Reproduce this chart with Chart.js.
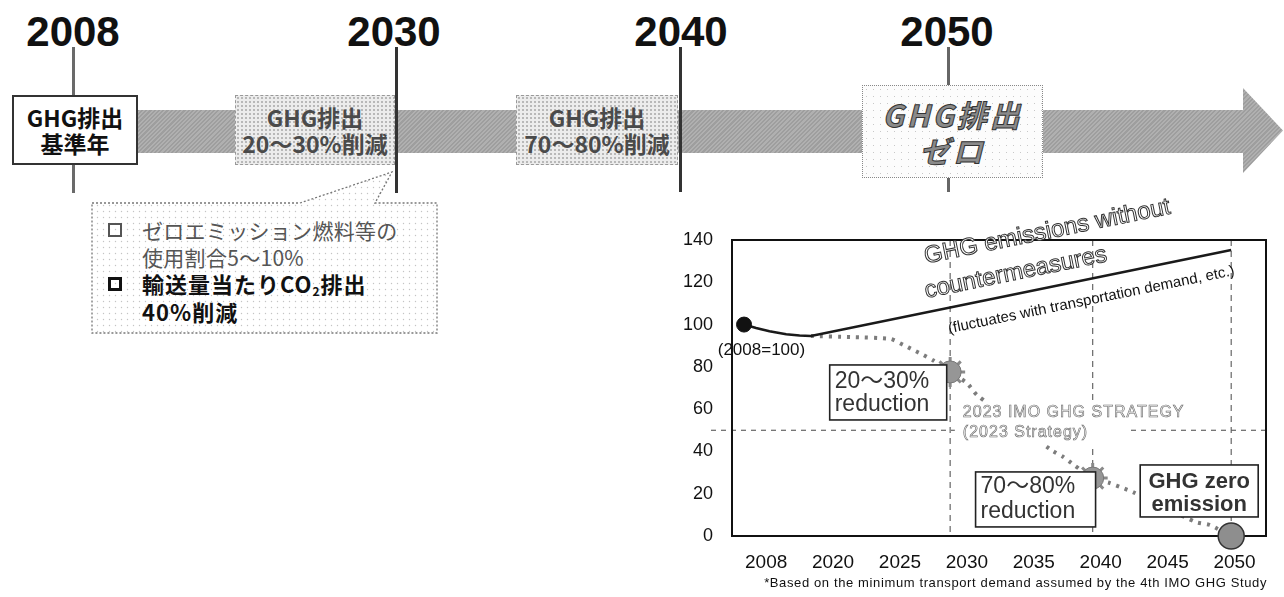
<!DOCTYPE html>
<html lang="ja">
<head>
  <meta charset="UTF-8">
  <title>GHG削減目標</title>
  <script src="https://cdn.jsdelivr.net/npm/chart.js"></script>
  <style>
    * { box-sizing: border-box; margin: 0; padding: 0; }
    body {
      width: 1284px; height: 597px; position: relative; overflow: hidden;
      background: #fff; color: #111;
      font-family: 'Liberation Sans', 'Noto Sans CJK JP', sans-serif;
    }
    .abs { position: absolute; }
    /* timeline */
    .year {
      position: absolute; top: 9px; width: 140px; margin-left: -70px;
      text-align: center; font: bold 42px/46px 'Liberation Sans', sans-serif;
      color: #111;
    }
    .vline { position: absolute; top: 47px; width: 3px; }
    .arrow {
      position: absolute; left: 138px; top: 88px; width: 1146px; height: 85px;
      background: repeating-linear-gradient(135deg, #9e9e9e 0 1.5px, #b0b0b0 1.5px 3px);
      clip-path: polygon(0 22px, 1105px 22px, 1105px 0, 1145px 42.5px, 1105px 85px, 1105px 65px, 0 65px);
    }
    .box {
      position: absolute; display: flex; flex-direction: column;
      align-items: center; justify-content: center;
      font-family: 'Noto Sans CJK JP', sans-serif; font-weight: bold;
      font-size: 23px; line-height: 26px; white-space: nowrap;
    }
    .box.base { left: 12px; top: 95px; width: 126px; height: 70px; background: #fff; border: 2px solid #333; color: #111; }
    .box.goal {
      top: 95px; height: 70px; border: 1.5px dashed #999; color: #4a4a4a;
      background-color: #ececec;
      background-image: radial-gradient(#b8b8b8 0.8px, transparent 1.1px);
      background-size: 4px 4px;
    }
    .box.zero {
      left: 862px; top: 85px; width: 181px; height: 93px;
      border: 1.5px dotted #888; background-color: #fcfcfc;
      background-image: radial-gradient(#c8c8c8 0.7px, transparent 1px);
      background-size: 7px 7px;
      font-style: italic; font-size: 30px; line-height: 36px; letter-spacing: 3px;
      color: #8a8a8a; -webkit-text-stroke: 1px #333;
    }
    .cl { position: absolute; left: 142px; height: 26px; line-height: 26px; white-space: nowrap;
      font-family: 'Noto Sans CJK JP', sans-serif; }
    .cl.soft { font-size: 21px; color: #555; letter-spacing: 0.3px; }
    .cl.strong { font-size: 22px; font-weight: bold; color: #111; letter-spacing: 1px; }
    .cl sub { font-size: 12px; vertical-align: -3px; }
    .bullet { position: absolute; left: 108px; width: 14px; height: 14px; }
    #chartBox { position: absolute; left: 640px; top: 190px; width: 644px; height: 407px; }
  </style>
</head>
<body>
  <!-- timeline arrow -->
  <div class="arrow"></div>
  <div class="vline" style="left:72px;height:146px;background:#6a6a6a"></div>
  <div class="vline" style="left:395px;height:146px;background:#333"></div>
  <div class="vline" style="left:679px;height:145px;background:#333"></div>
  <div class="vline" style="left:947px;height:145px;width:2.5px;background:#666"></div>

  <div class="year" style="left:73px">2008</div>
  <div class="year" style="left:394px">2030</div>
  <div class="year" style="left:681px">2040</div>
  <div class="year" style="left:947px">2050</div>

  <div class="box base"><div>GHG排出</div><div>基準年</div></div>
  <div class="box goal" style="left:235px;width:160px"><div>GHG排出</div><div>20～30%削減</div></div>
  <div class="box goal" style="left:516px;width:162px"><div>GHG排出</div><div>70～80%削減</div></div>
  <div class="box zero"><div>GHG排出</div><div>ゼロ</div></div>

  <!-- 2030 callout -->
  <svg class="abs" style="left:0;top:0" width="480" height="340">
    <defs>
      <pattern id="dots" width="6" height="6" patternUnits="userSpaceOnUse">
        <rect width="6" height="6" fill="#fff"/>
        <circle cx="1.5" cy="1.5" r="0.7" fill="#c4c4c4"/>
      </pattern>
    </defs>
    <polygon points="92,203 300,203 392,172 375,203 437,203 437,333 92,333"
      fill="url(#dots)" stroke="#777" stroke-width="1.3" stroke-dasharray="2 2"/>
  </svg>
  <div class="bullet" style="top:223px;border:2.5px solid #555"></div>
  <div class="cl soft" style="top:217px">ゼロエミッション燃料等の</div>
  <div class="cl soft" style="top:244px">使用割合5～10%</div>
  <div class="bullet" style="top:277px;border:3px solid #111"></div>
  <div class="cl strong" style="top:270px">輸送量当たりCO<sub>2</sub>排出</div>
  <div class="cl strong" style="top:298px">40%削減</div>

  <div id="chartBox"><canvas id="ghgChart"></canvas></div>

  <script>
    // x axis is an index axis: each tick label sits at 0..7
    const xTickLabels = ['2008', '2020', '2025', '2030', '2035', '2040', '2045', '2050'];

    // GHG emissions without countermeasures (2008 = 100)
    const bauX = [-0.33, -0.15, 0.05, 0.3, 0.5, 0.67, 6.95];
    const bauY = [100, 98.4, 96.8, 95.4, 94.8, 94.6, 135.3];

    // 2023 IMO GHG strategy pathway (dotted)
    const strategyX = [0.67, 1.26, 1.86, 2.05, 2.2, 2.35, 2.5, 2.75, 3.0, 3.15, 4.26, 4.44, 4.6, 4.88, 5.14, 5.33, 5.48, 6.42, 6.63, 6.95];
    const strategyY = [94.6, 94.1, 93.2, 90.4, 88, 85.6, 83, 77.6, 72.4, 66.7, 40.7, 37.4, 33.6, 27.4, 25, 22.7, 20.8, 6.6, 5.2, 0];

    // base year point and the 2030 / 2040 / 2050 milestones
    const baseX = [-0.33];
    const baseY = [100];
    const milestoneX = [2.75, 4.88, 6.95];
    const milestoneY = [77.6, 27.4, 0];

    // horizontal reference line
    const refLevel = [50];

    const toPoints = (xs, ys) => xs.map((x, i) => ({ x: x, y: ys[i] }));

    const annotations = {
      id: 'annotations',
      beforeDatasetsDraw(chart) {
        const { ctx, chartArea: a, scales: { x, y } } = chart;
        ctx.save();
        // dashed milestone lines
        ctx.strokeStyle = '#666';
        ctx.lineWidth = 1.2;
        ctx.setLineDash([6, 5]);
        milestoneX.forEach(v => {
          const px = x.getPixelForValue(v);
          ctx.beginPath(); ctx.moveTo(px, a.top); ctx.lineTo(px, a.bottom); ctx.stroke();
        });
        ctx.setLineDash([5, 5]);
        refLevel.forEach(v => {
          const py = y.getPixelForValue(v);
          ctx.beginPath(); ctx.moveTo(a.left - 21, py); ctx.lineTo(a.right, py); ctx.stroke();
        });
        ctx.setLineDash([]);
        // plot frame
        ctx.strokeStyle = '#111';
        ctx.lineWidth = 2;
        ctx.strokeRect(a.left, a.top, a.right - a.left, a.bottom - a.top);
        ctx.restore();
      },
      afterDatasetsDraw(chart) {
        const { ctx, chartArea: a, scales: { x, y } } = chart;
        const px = v => x.getPixelForValue(v);
        const py = v => y.getPixelForValue(v);
        ctx.save();

        // strategy caption (sits over the lines)
        ctx.fillStyle = '#fff';
        ctx.fillRect(px(2.82), py(63.4), px(5.42) - px(2.82), py(43) - py(63.4));
        ctx.font = '16px "Liberation Sans"';
        ctx.letterSpacing = '1px';
        ctx.textBaseline = 'middle';
        ctx.textAlign = 'left';
        ctx.fillStyle = '#f2f2f2';
        ctx.strokeStyle = '#6a6a6a';
        ctx.lineWidth = 0.6;
        [['2023 IMO GHG STRATEGY', 58.2], ['(2023 Strategy)', 48.7]].forEach(([t, v]) => {
          ctx.fillText(t, px(2.94), py(v));
          ctx.strokeText(t, px(2.94), py(v));
        });
        ctx.letterSpacing = '0px';

        // labelled boxes
        const boxes = [
          { x: 0.95, y: 80.9, w: 117, h: 55, lines: ['20～30%', 'reduction'], bold: false, center: false, dy: [17, 40] },
          { x: 3.13, y: 30.3, w: 120, h: 55, lines: ['70～80%', 'reduction'], bold: false, center: false, dy: [15, 40] },
          { x: 5.59, y: 33.6, w: 118, h: 52, lines: ['GHG zero', 'emission'], bold: true, center: true, dy: [17, 40] }
        ];
        boxes.forEach(b => {
          const bx = px(b.x), by = py(b.y);
          ctx.fillStyle = '#fff';
          ctx.fillRect(bx, by, b.w, b.h);
          ctx.strokeStyle = '#222';
          ctx.lineWidth = 1.6;
          ctx.strokeRect(bx, by, b.w, b.h);
          ctx.fillStyle = '#333';
          ctx.font = (b.bold ? 'bold 22px' : '23px') + ' "Liberation Sans", "Noto Sans CJK JP"';
          ctx.textAlign = b.center ? 'center' : 'left';
          b.lines.forEach((t, i) => {
            ctx.fillText(t, b.center ? bx + b.w / 2 : bx + 5, by + b.dy[i]);
          });
        });

        // base label
        ctx.fillStyle = '#111';
        ctx.font = '17px "Liberation Sans"';
        ctx.textAlign = 'center';
        ctx.fillText('(2008=100)', px(-0.07), py(88));

        // rotated labels for the no-countermeasure line
        const rot = -11.5 * Math.PI / 180;
        const rotated = (t, xv, yv, font, fill, stroke) => {
          ctx.save();
          ctx.translate(px(xv), py(yv));
          ctx.rotate(rot);
          ctx.font = font;
          ctx.textAlign = 'center';
          ctx.textBaseline = 'middle';
          ctx.fillStyle = fill;
          ctx.fillText(t, 0, 0);
          if (stroke) { ctx.strokeStyle = stroke; ctx.lineWidth = 1; ctx.strokeText(t, 0, 0); }
          ctx.restore();
        };
        rotated('GHG emissions without', 4.2, 143.8, '24px "Liberation Sans"', '#fff', '#333');
        rotated('countermeasures', 3.73, 124.4, '24px "Liberation Sans"', '#fff', '#333');
        rotated('(fluctuates with transportation demand, etc.)', 4.86, 111.6, '15px "Liberation Sans"', '#111', null);

        // footnote, stretched to the width of the plot
        const note = '*Based on the minimum transport demand assumed by the 4th IMO GHG Study';
        ctx.font = '13px "Liberation Sans"';
        ctx.textAlign = 'right';
        ctx.textBaseline = 'middle';
        ctx.fillStyle = '#111';
        const w = ctx.measureText(note).width;
        ctx.letterSpacing = Math.max(0, (503 - w) / note.length).toFixed(2) + 'px';
        ctx.fillText(note, a.right + 1, a.bottom + 47);
        ctx.restore();
      }
    };

    window.onload = function() {
      const ctx = document.getElementById('ghgChart').getContext('2d');
      new Chart(ctx, {
        type: 'scatter',
        data: {
          datasets: [
            {
              label: '2008',
              data: toPoints(baseX, baseY),
              pointRadius: 7.5,
              pointBackgroundColor: '#111',
              pointBorderColor: '#111',
              clip: false,
              order: 0
            },
            {
              label: 'milestones',
              data: toPoints(milestoneX, milestoneY),
              pointRadius: [11, 11, 13],
              pointBackgroundColor: ['#969696', '#969696', '#8e8e8e'],
              pointBorderColor: ['#777', '#777', '#333'],
              pointBorderWidth: [1, 1, 1.5],
              clip: false,
              order: 1
            },
            {
              label: 'spikes',
              data: toPoints(milestoneX, milestoneY),
              pointStyle: 'star',
              pointRadius: [15, 15, 0],
              pointBorderColor: '#8a8a8a',
              pointBorderWidth: 3,
              clip: false,
              order: 2
            },
            {
              label: 'without countermeasures',
              data: toPoints(bauX, bauY),
              showLine: true,
              borderColor: '#1a1a1a',
              borderWidth: 2.6,
              pointRadius: 0,
              tension: 0,
              order: 3
            },
            {
              label: '2023 IMO GHG Strategy',
              data: toPoints(strategyX, strategyY),
              showLine: true,
              borderColor: '#7c7c7c',
              borderWidth: 4,
              borderDash: [3, 6],
              pointRadius: 0,
              tension: 0.2,
              order: 4
            }
          ]
        },
        options: {
          responsive: true,
          maintainAspectRatio: false,
          animation: false,
          layout: { padding: { left: 0, right: 17, top: 50, bottom: 0 } },
          plugins: { legend: { display: false }, tooltip: { enabled: false } },
          scales: {
            x: {
              type: 'linear',
              min: -0.51,
              max: 7.47,
              grid: { display: false, drawTicks: false },
              border: { display: false },
              afterBuildTicks: s => { s.ticks = xTickLabels.map((_, i) => ({ value: i })); },
              afterFit: s => { s.height = 61; },
              ticks: {
                autoSkip: false,
                maxRotation: 0,
                padding: 15,
                color: '#111',
                font: { family: 'Liberation Sans', size: 19 },
                callback: v => xTickLabels[v]
              }
            },
            y: {
              min: 0,
              max: 140,
              grid: { display: false, drawTicks: false },
              border: { display: false },
              afterFit: s => { s.width = 92; },
              ticks: {
                stepSize: 20,
                padding: 19,
                color: '#111',
                font: { family: 'Liberation Sans', size: 18 }
              }
            }
          }
        },
        plugins: [annotations]
      });
    };
  </script>
</body>
</html>
